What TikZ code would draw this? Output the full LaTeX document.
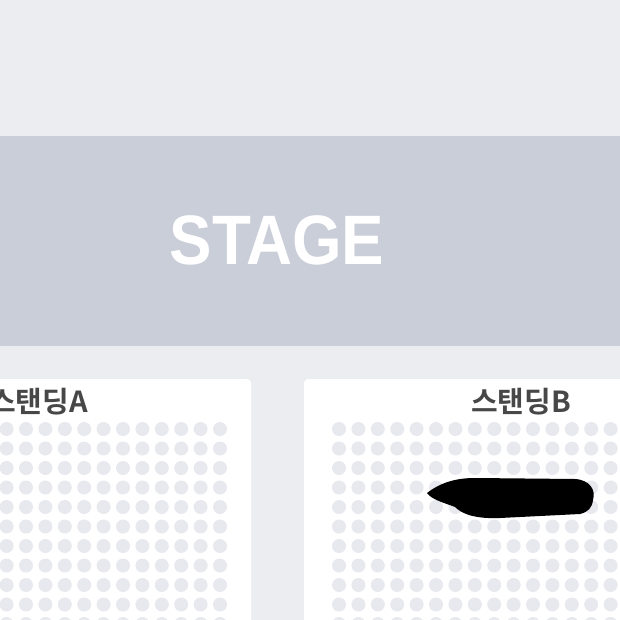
\documentclass[tikz,border=0pt]{standalone}
\usepackage{fontspec}
\setmainfont{Liberation Sans}
\newfontfamily\krfont{Noto Sans CJK KR}[BoldFont={* Bold}]
\definecolor{bgc}{HTML}{ECEDF1}
\definecolor{stagec}{HTML}{CACED9}
\definecolor{dotc}{HTML}{E8E9EE}
\definecolor{labelc}{HTML}{474747}
\tikzset{
  panel/.style={fill=white, draw=none, rounded corners=4pt},
  seat/.style={fill=dotc, draw=none},
  zonelabel/.style={font=\krfont\bfseries\fontsize{29pt}{29pt}\selectfont, text=labelc, inner sep=0pt, anchor=base},
  stagelabel/.style={font=\bfseries\fontsize{70pt}{70pt}\selectfont, text=white, inner sep=0pt}
}
\begin{document}
\begin{tikzpicture}[x=1pt,y=-1pt]
\useasboundingbox (0,0) rectangle (620,620);
\begin{scope}
\clip (0,0) rectangle (620,620);
\fill[bgc] (-5,-5) rectangle (625,625);
% stage band
\fill[stagec] (-5,136) rectangle (625,346);
\node[stagelabel] (stage) at (277,240) {\scalebox{0.91}[1]{STAGE}};
% panels
\fill[panel] (-20,379) rectangle (251,660);
\fill[panel] (304,379) rectangle (660,660);
% seats left
\foreach \i in {0,...,11}{
  \foreach \j in {0,...,10}{
    \fill[seat] ({220-19.4*\i},{429+19.5*\j}) circle (7);
  }
}
% seats right
\foreach \i in {0,...,14}{
  \foreach \j in {0,...,10}{
    \fill[seat] ({339+19.4*\i},{429+19.5*\j}) circle (7);
  }
}
% labels
\node[zonelabel, anchor=base east] (lblA) at (88,412) {스탠딩A};
\node[zonelabel] (lblB) at (521,412) {스탠딩B};
% scribble
\fill[black] (427,493) .. controls (440,483) and (455,478) .. (475,478)
  -- (575,479) .. controls (590,480) and (596,490) .. (593,500)
  .. controls (592,508) and (588,512) .. (580,514)
  -- (500,518) .. controls (475,519) and (462,514) .. (455,507)
  .. controls (445,503) and (432,500) .. cycle;
\end{scope}
\end{tikzpicture}
\end{document}
